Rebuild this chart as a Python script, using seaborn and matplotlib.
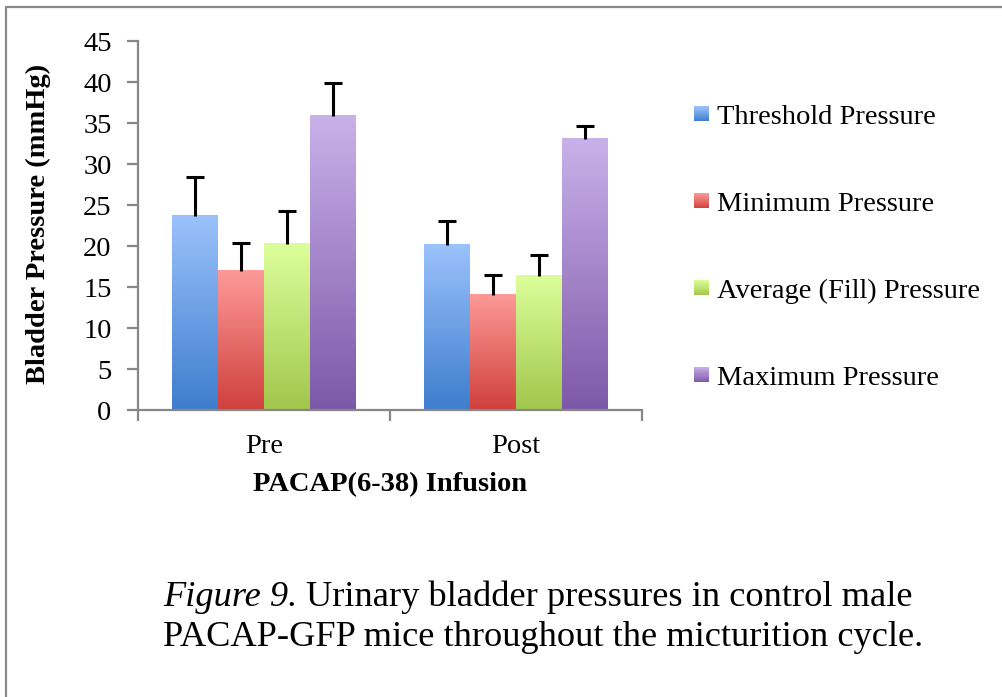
import numpy as np
import pandas as pd
import matplotlib
matplotlib.use("Agg")
import matplotlib.pyplot as plt
import seaborn as sns
from matplotlib.colors import LinearSegmentedColormap, to_rgb
from matplotlib.legend_handler import HandlerBase
from matplotlib.patches import Rectangle
from matplotlib.lines import Line2D

# ---------------- data ----------------
conditions = ["Pre", "Post"]
measures = ["Threshold Pressure", "Minimum Pressure",
            "Average (Fill) Pressure", "Maximum Pressure"]
pre_means = [23.7, 17.0, 20.3, 35.9]
post_means = [20.2, 14.1, 16.4, 33.1]
pre_err = [4.8, 3.4, 4.0, 4.05]
post_err = [2.9, 2.45, 2.5, 1.6]
y_ticks = [0, 5, 10, 15, 20, 25, 30, 35, 40, 45]

x_title = "PACAP(6-38) Infusion"
y_title = "Bladder Pressure (mmHg)"
caption_italic = "Figure 9."
caption_line1 = "Urinary bladder pressures in control male"
caption_line2 = "PACAP-GFP mice throughout the micturition cycle."

# gradient colours (top = light, bottom = dark)
top_colors = ["#9bc2fc", "#fd9a98", "#dcff9b", "#c9b1ea"]
bottom_colors = ["#3e7dcd", "#d0403c", "#a2c64c", "#7e58a8"]

# ---------------- style ----------------
sns.set_theme(style="white")
plt.rcParams["font.family"] = ["Liberation Serif", "DejaVu Serif"]
plt.rcParams["text.color"] = "black"
plt.rcParams["axes.labelcolor"] = "black"
plt.rcParams["xtick.color"] = "black"
plt.rcParams["ytick.color"] = "black"
axis_gray = "#878787"

df = pd.DataFrame({
    "Condition": np.repeat(conditions, len(measures)),
    "Measure": measures * len(conditions),
    "Pressure": pre_means + post_means,
    "Err": pre_err + post_err,
})

mid_colors = [tuple((np.array(to_rgb(t)) + np.array(to_rgb(b))) / 2)
              for t, b in zip(top_colors, bottom_colors)]

fig = plt.figure(figsize=(10.02, 6.97), dpi=100)
ax = fig.add_axes([0.1377, 0.4113, 0.503, 0.5294])

sns.barplot(data=df, x="Condition", y="Pressure", hue="Measure",
            order=conditions, hue_order=measures, palette=mid_colors,
            saturation=1, width=0.73, errorbar=None, legend=False,
            linewidth=0, ax=ax)

# gradient fill over each bar + error bars
grad = np.linspace(0, 1, 256).reshape(-1, 1)
for container, meas, tc, bc in zip(ax.containers, measures, top_colors, bottom_colors):
    cmap = LinearSegmentedColormap.from_list(meas, [bc, tc])
    errs = df[df["Measure"] == meas].set_index("Condition").loc[conditions, "Err"].values
    xs, hs = [], []
    for patch in container.patches:
        x0, w, h = patch.get_x(), patch.get_width(), patch.get_height()
        ax.imshow(grad, extent=[x0, x0 + w, 0, h], origin="lower", cmap=cmap,
                  aspect="auto", zorder=patch.get_zorder() + 0.1,
                  interpolation="bilinear")
        xs.append(x0 + w / 2)
        hs.append(h)
    hs = np.array(hs)
    _, caplines, _ = ax.errorbar(xs, hs, yerr=[np.zeros_like(errs), errs],
                                 fmt="none", ecolor="black", elinewidth=2.2,
                                 capsize=6.5, capthick=2.2, zorder=6)
    for cl in caplines:
        if np.allclose(cl.get_ydata(), hs):
            cl.set_visible(False)

# axes cosmetics
ax.set_xlim(-0.5, 1.5)
ax.set_ylim(0, 45)
ax.set_yticks(y_ticks)
ax.set_yticklabels([str(t) for t in y_ticks])
for side in ["top", "right"]:
    ax.spines[side].set_visible(False)
for side in ["left", "bottom"]:
    ax.spines[side].set_color(axis_gray)
    ax.spines[side].set_linewidth(1.6)
ax.tick_params(axis="y", which="major", direction="out", length=8, width=1.6,
               color=axis_gray, labelsize=20.5, pad=11, labelcolor="black", left=True)
ax.tick_params(axis="x", which="major", length=0, labelsize=20.5, pad=17,
               labelcolor="black")
ax.set_xticks([-0.5, 0.5, 1.5], minor=True)
ax.tick_params(axis="x", which="minor", direction="out", length=8, width=1.6,
               color=axis_gray, bottom=True)
ax.grid(False)

ax.set_xlabel(x_title, fontsize=20.5, fontweight="bold", color="black")
ax.xaxis.set_label_coords(0.5, -0.20)
ax.xaxis.label.set_va("center")
ax.set_ylabel(y_title, fontsize=20.5, fontweight="bold", color="black")
ax.yaxis.set_label_coords(-0.198, 0.505)
ax.yaxis.label.set_va("center")


# legend with gradient squares
class GradientHandler(HandlerBase):
    def __init__(self, top, bottom, n=14):
        super().__init__()
        self.top = np.array(to_rgb(top))
        self.bottom = np.array(to_rgb(bottom))
        self.n = n

    def create_artists(self, legend, orig_handle, xdescent, ydescent,
                       width, height, fontsize, trans):
        arts = []
        side = min(width, height)
        y0 = -ydescent + (height - side) / 2
        for i in range(self.n):
            frac = (i + 0.5) / self.n
            c = self.bottom + (self.top - self.bottom) * frac
            r = Rectangle((-xdescent, y0 + i * side / self.n), side,
                          side / self.n + 0.01, facecolor=c, edgecolor="none",
                          linewidth=0, transform=trans)
            arts.append(r)
        return arts


handles = [Rectangle((0, 0), 1, 1, facecolor=m) for m in mid_colors]
hmap = {h: GradientHandler(t, b) for h, t, b in zip(handles, top_colors, bottom_colors)}
leg = ax.legend(handles, measures, handler_map=hmap, loc="upper left",
                bbox_to_anchor=(694 / 1002, 1 - 105 / 697),
                bbox_transform=fig.transFigure, frameon=False, fontsize=20.5,
                labelspacing=2.17, handlelength=0.53, handleheight=0.53,
                handletextpad=0.28, borderpad=0, borderaxespad=0)

# caption
fig.canvas.draw()
renderer = fig.canvas.get_renderer()
cap_fs = 26.2
cx = 163 / 1002
t1 = fig.text(cx, 1 - 606 / 697, caption_italic, fontsize=cap_fs, style="italic",
              va="baseline", ha="left")
bb = t1.get_window_extent(renderer)
space = cap_fs * 100 / 72 * 0.25
fig.text((bb.x1 + space) / fig.bbox.width, 1 - 606 / 697, caption_line1,
         fontsize=cap_fs, va="baseline", ha="left")
fig.text(cx, 1 - 646 / 697, caption_line2, fontsize=cap_fs, va="baseline", ha="left")

# outer frame (top and left lines)
fig.add_artist(Line2D([6 / 1002, 1.0], [1 - 7 / 697, 1 - 7 / 697],
                      transform=fig.transFigure, color="#8a8a8a", linewidth=1.6))
fig.add_artist(Line2D([6 / 1002, 6 / 1002], [0, 1 - 7 / 697],
                      transform=fig.transFigure, color="#8a8a8a", linewidth=1.6))

fig.savefig("out.png", dpi=100)
